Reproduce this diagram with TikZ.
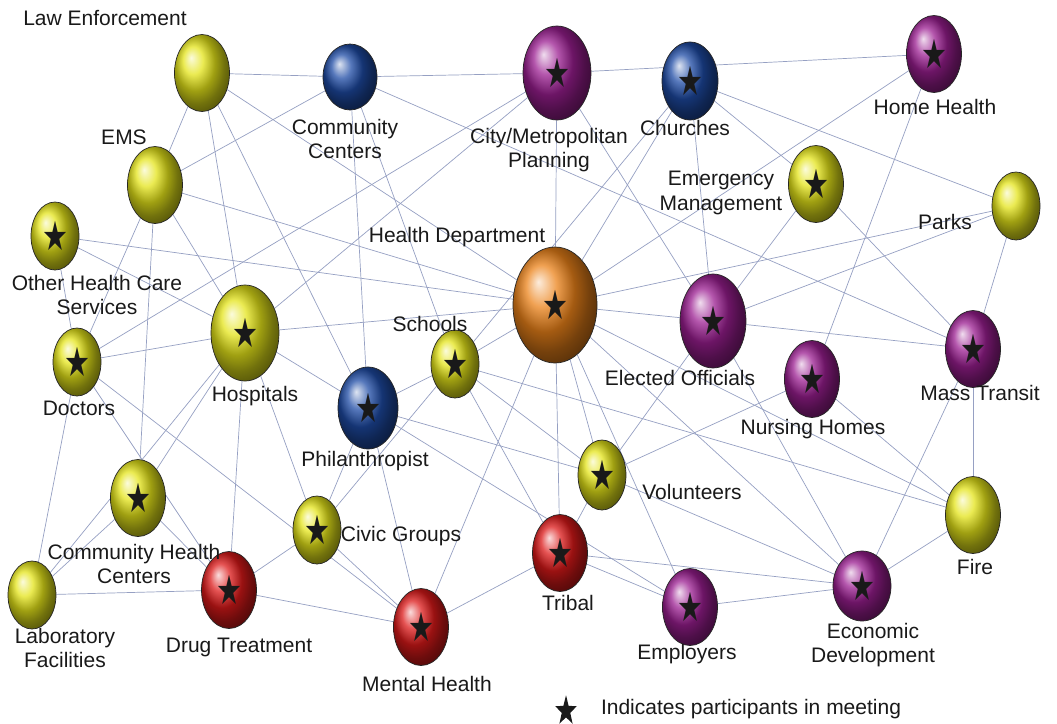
\documentclass[tikz,border=0pt]{standalone}
\usepackage{fontspec}
\setmainfont{Liberation Sans}
\newfontfamily\dejavu{DejaVu Sans}
\usetikzlibrary{shapes.geometric,backgrounds}
\definecolor{ylw}{RGB}{228,228,25}
\definecolor{blu}{RGB}{30,75,165}
\definecolor{pur}{RGB}{155,30,145}
\definecolor{rd}{RGB}{220,25,25}
\definecolor{org}{RGB}{235,130,25}
\definecolor{lnc}{RGB}{150,160,195}
\newcommand{\pstar}{\scalebox{1}[1.4]{\fontsize{29}{29}\selectfont\dejavu ★}}
\begin{document}
\begin{tikzpicture}[x=1pt,y=-1pt,
 ball/.style={ellipse, draw=black!85, line width=0.7pt, inner sep=0pt, text=black!90},
 yb/.style={ball, ball color=ylw},
 bb/.style={ball, ball color=blu},
 pb/.style={ball, ball color=pur},
 rb/.style={ball, ball color=rd},
 ob/.style={ball, ball color=org},
 sA/.style={minimum width=48pt, minimum height=68pt},
 sB/.style={minimum width=55pt, minimum height=77pt},
 lbl/.style={font=\fontsize{21}{24.5}\selectfont, align=center, text=black!90, inner sep=0pt},
 conn/.style={draw=lnc, line width=0.7pt}]
\useasboundingbox (0,0) rectangle (1057,723);
% balls
\node[yb,sB] (le) at (202,73) {};
\node[bb,minimum width=54pt,minimum height=66pt] (cc) at (350,77) {};
\node[pb,minimum width=68pt,minimum height=94pt] (cp) at (557,73) {\pstar};
\node[bb,minimum width=56pt,minimum height=78pt] (ch) at (690,81) {\pstar};
\node[pb,sB] (hh) at (934,54) {\pstar};
\node[yb,sB] (ems) at (155,185) {};
\node[yb,sA] (ohc) at (55,236) {\pstar};
\node[yb,sB] (emg) at (816,184) {\pstar};
\node[yb,sA] (pk) at (1016,206) {};
\node[ob,minimum width=84pt,minimum height=116pt] (hd) at (555,305) {\pstar};
\node[yb,minimum width=68pt,minimum height=96pt] (ho) at (245,333) {\pstar};
\node[yb,sA] (doc) at (77,362) {\pstar};
\node[yb,sA] (sc) at (455,364) {\pstar};
\node[pb,minimum width=66pt,minimum height=94pt] (eo) at (713,321) {\pstar};
\node[pb,sB] (nh) at (812,379) {\pstar};
\node[pb,sB] (mt) at (973,349) {\pstar};
\node[bb,minimum width=60pt,minimum height=82pt] (ph) at (368,408) {\pstar};
\node[yb,minimum width=48pt,minimum height=70pt] (vo) at (602,475) {\pstar};
\node[yb,sB] (chc) at (138,498) {\pstar};
\node[yb,sA] (cg) at (317,530) {\pstar};
\node[rb,sB] (tr) at (560,553) {\pstar};
\node[yb,sB] (fi) at (973,515) {};
\node[yb,sA] (la) at (32,595) {};
\node[rb,sB] (dt) at (229,590) {\pstar};
\node[rb,sB] (mh) at (421,627) {\pstar};
\node[pb,sB] (ep) at (690,607) {\pstar};
\node[pb,minimum width=58pt,minimum height=70pt] (ed) at (862,586) {\pstar};
% labels
\node[lbl] (le-l) at (105,18) {Law Enforcement};
\node[lbl] (cc-l) at (345,139) {Community\\Centers};
\node[lbl] (cp-l) at (549,150) {City/Metropolitan\\Planning};
\node[lbl] (ch-l) at (685,128) {Churches};
\node[lbl] (hh-l) at (935,107) {Home Health};
\node[lbl] (ems-l) at (124,137) {EMS};
\node[lbl] (emg-l) at (721,193) {Emergency\\Management};
\node[lbl] (pk-l) at (945,222) {Parks};
\node[lbl] (hd-l) at (457,237) {Health Department};
\node[lbl] (ohc-l) at (97,295) {Other Health Care\\Services};
\node[lbl] (sc-l) at (430,324) {Schools};
\node[lbl] (ho-l) at (255,396) {Hospitals};
\node[lbl] (doc-l) at (79,408) {Doctors};
\node[lbl] (eo-l) at (680,378) {Elected Officials};
\node[lbl] (nh-l) at (813,429) {Nursing Homes};
\node[lbl] (mt-l) at (980,393) {Mass Transit};
\node[lbl] (ph-l) at (365,461) {Philanthropist};
\node[lbl] (vo-l) at (692,492) {Volunteers};
\node[lbl] (chc-l) at (134,564) {Community Health\\Centers};
\node[lbl] (cg-l) at (401,536) {Civic Groups};
\node[lbl] (tr-l) at (568,603) {Tribal};
\node[lbl] (fi-l) at (975,567) {Fire};
\node[lbl] (la-l) at (65,648) {Laboratory\\Facilities};
\node[lbl] (dt-l) at (239,647) {Drug Treatment};
\node[lbl] (mh-l) at (427,684) {Mental Health};
\node[lbl] (ep-l) at (687,654) {Employers};
\node[lbl] (ed-l) at (873,645) {Economic\\Development};
% legend
\coordinate (lg-s) at (566,711);
\fill[black!90, shift={(lg-s)}, scale=1.25, yscale=1.4]
  (0,-9) -- (2.12,-2.92) -- (8.56,-2.78) -- (3.42,1.12) -- (5.29,7.28)
  -- (0,3.6) -- (-5.29,7.28) -- (-3.42,1.12) -- (-8.56,-2.78) -- (-2.12,-2.92) -- cycle;
\node[lbl] (lg-t) at (751,709) {Indicates participants in meeting};
% connectors
\begin{pgfonlayer}{background}
\fill[white] (0,0) rectangle (1057,723);
\foreach \a/\b in {le/cc, le/ems, le/ho, le/ph, le/hd,
  cc/cp, cc/ems, cc/ph, cc/sc, cc/mt,
  cp/hh, cp/hd, cp/eo, cp/doc, cp/ho,
  ch/hd, ch/eo, ch/emg, ch/pk, ch/sc,
  hh/hd, hh/nh,
  ems/hd, ems/doc, ems/chc, ems/ho,
  ohc/hd, ohc/ho, ohc/doc,
  emg/eo, emg/mt,
  pk/hd, pk/eo, pk/mt,
  hd/sc, hd/ho, hd/eo, hd/fi, hd/ed, hd/ep, hd/vo, hd/tr, hd/mh,
  ho/doc, ho/ph, ho/chc, ho/la, ho/dt, ho/cg,
  doc/la, doc/dt, doc/mh,
  sc/ph, sc/tr, sc/vo, sc/fi, sc/cg,
  eo/mt, eo/ed, eo/vo,
  nh/vo, nh/fi,
  mt/fi, mt/ed,
  ph/vo, ph/ep, ph/mh, ph/cg,
  vo/tr, vo/ed,
  chc/la, chc/dt,
  cg/dt, cg/mh,
  tr/mh, tr/ep, tr/ed,
  fi/ed, la/dt, dt/mh, ep/ed}
  \draw[conn] (\a) -- (\b);
\end{pgfonlayer}
\end{tikzpicture}
\end{document}
